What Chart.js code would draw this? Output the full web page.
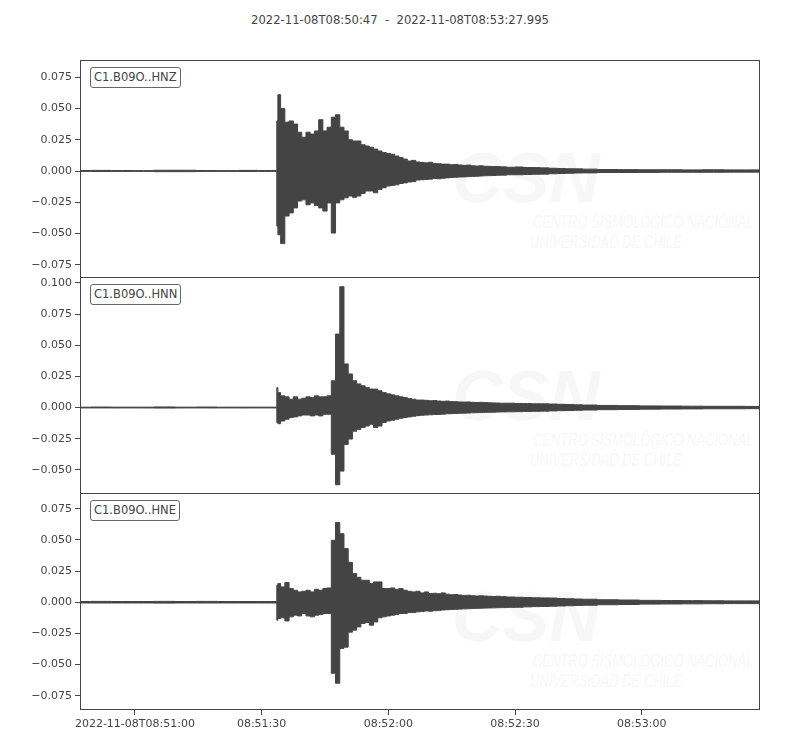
<!DOCTYPE html>
<html>
<head>
<meta charset="utf-8">
<script src="https://cdn.jsdelivr.net/npm/chart.js@4.4.1/dist/chart.umd.min.js"></script>
<style>
  body { margin: 0; background: #fff; }
  #wrap { position: relative; width: 800px; height: 750px; font-family: "DejaVu Sans", sans-serif; color: #444; overflow: hidden; }
  canvas { position: absolute; left: 0; }
  .title { position: absolute; top: 13px; left: 0; width: 800px; text-align: center; font-size: 11.6px; white-space: pre; }
  .tag { position: absolute; left: 90px; font-size: 11.5px; line-height: 13px; border: 1px solid #666; border-radius: 3px; padding: 3px 3px; background: #fff; z-index: 5; }
  .wm { position: absolute; color: #f7f7f7; font-style: italic; white-space: nowrap; font-family: "Liberation Sans Narrow", "Liberation Sans", sans-serif; transform-origin: left top; }
  .wm.big { font-weight: bold; font-size: 70px; font-family: "Liberation Sans", sans-serif; }
  .wm.small { font-size: 18px; transform: scaleX(0.72); }
</style>
</head>
<body>
<div id="wrap">
  <div class="title">2022-11-08T08:50:47  -  2022-11-08T08:53:27.995</div>

  <div class="wm big" style="left:452px;top:138px;">CSN</div>
  <div class="wm small" style="left:533px;top:212px;">CENTRO SISMOLÓGICO NACIONAL</div>
  <div class="wm small" style="left:530px;top:232px;">UNIVERSIDAD DE CHILE</div>
  <div class="wm big" style="left:452px;top:356px;">CSN</div>
  <div class="wm small" style="left:533px;top:430px;">CENTRO SISMOLÓGICO NACIONAL</div>
  <div class="wm small" style="left:530px;top:450px;">UNIVERSIDAD DE CHILE</div>
  <div class="wm big" style="left:452px;top:577px;">CSN</div>
  <div class="wm small" style="left:533px;top:651px;">CENTRO SISMOLÓGICO NACIONAL</div>
  <div class="wm small" style="left:530px;top:671px;">UNIVERSIDAD DE CHILE</div>

  <canvas id="hnz" width="800" height="278" style="top:0px"></canvas>
  <canvas id="hnn" width="800" height="217" style="top:277px"></canvas>
  <canvas id="hne" width="800" height="257" style="top:493px"></canvas>

  <div class="tag" style="top:67px">C1.B09O..HNZ</div>
  <div class="tag" style="top:284px">C1.B09O..HNN</div>
  <div class="tag" style="top:500px">C1.B09O..HNE</div>
</div>

<script>
// seconds after 08:50:47, envelope sample times
const seconds = [0, 5, 10, 15, 20, 25, 30, 35, 40, 44, 46.5, 46.7,
  47, 48, 49, 50, 51, 52, 53, 54, 55, 56, 57, 58, 59, 60, 61, 62, 63, 64, 65, 66, 67, 68, 69, 70,
  71, 72, 73, 74, 75, 76, 77, 78, 79, 80, 81, 82, 83, 84, 85, 86, 87, 88, 89, 90,
  91, 92, 93, 94, 95, 96, 97, 98, 99, 100,
  102, 104, 106, 108, 110, 112, 114, 116, 118, 120,
  125, 130, 135, 140, 145, 150, 155, 160, 161];

// upper / lower envelope of each trace (m/s^2)
const hnzMax = [0.0004, 0.0005, 0.0004, 0.0003, 0.0006, 0.0006, 0.0004, 0.0003, 0.0005, 0.0004, 0.0004, 0.040,
  0.061, 0.050, 0.039, 0.040, 0.0375, 0.031, 0.027, 0.031, 0.0295, 0.032, 0.041, 0.032, 0.035, 0.043, 0.045, 0.035, 0.032, 0.025, 0.024, 0.024, 0.021, 0.020, 0.019, 0.0175,
  0.016, 0.0147, 0.014, 0.0134, 0.012, 0.0107, 0.0095, 0.008, 0.0085, 0.0072, 0.0068, 0.0065, 0.007, 0.006, 0.0058, 0.0055, 0.0055, 0.005, 0.0052, 0.0048,
  0.0045, 0.0047, 0.0042, 0.004, 0.0042, 0.0038, 0.0037, 0.0035, 0.0036, 0.0033,
  0.003, 0.0032, 0.0028, 0.0027, 0.0025, 0.0022, 0.002, 0.0018, 0.0017, 0.0015,
  0.0012, 0.0011, 0.001, 0.001, 0.0009, 0.001, 0.0009, 0.0009, 0.0009];
const hnzMin = [-0.0003, -0.0004, -0.0003, -0.0003, -0.0005, -0.0005, -0.0003, -0.0003, -0.0004, -0.0003, -0.0003, -0.044,
  -0.051, -0.058, -0.036, -0.0335, -0.0295, -0.024, -0.023, -0.027, -0.0255, -0.0276, -0.0295, -0.032, -0.0255, -0.0496, -0.0255, -0.023, -0.0214, -0.020, -0.021, -0.020, -0.018, -0.016, -0.016, -0.0174,
  -0.0147, -0.0134, -0.012, -0.0115, -0.011, -0.010, -0.0095, -0.0088, -0.0085, -0.0072, -0.007, -0.0068, -0.0065, -0.006, -0.0062, -0.0058, -0.0055, -0.0052, -0.005, -0.0048,
  -0.0047, -0.0045, -0.0043, -0.0042, -0.004, -0.0038, -0.0037, -0.0036, -0.0034, -0.0033,
  -0.003, -0.003, -0.0028, -0.0026, -0.0025, -0.0022, -0.002, -0.0018, -0.0016, -0.0015,
  -0.0012, -0.0012, -0.0011, -0.001, -0.001, -0.001, -0.0009, -0.0009, -0.0009];

const hnnMax = [0.0003, 0.0004, 0.0003, 0.0003, 0.0005, 0.0003, 0.0004, 0.0003, 0.0003, 0.0003, 0.0003, 0.016,
  0.012, 0.0094, 0.0086, 0.0067, 0.0086, 0.0067, 0.0075, 0.0086, 0.008, 0.0094, 0.0086, 0.0086, 0.0094, 0.0215, 0.059, 0.097, 0.035, 0.027, 0.0215, 0.019, 0.0175, 0.016, 0.0148, 0.0148,
  0.0135, 0.012, 0.011, 0.0102, 0.0094, 0.0086, 0.008, 0.0073, 0.0067, 0.006, 0.006, 0.0058, 0.0055, 0.0056, 0.0052, 0.005, 0.0052, 0.0048, 0.0047, 0.0045,
  0.0044, 0.0045, 0.0042, 0.004, 0.0042, 0.004, 0.0038, 0.0037, 0.0036, 0.0035,
  0.0035, 0.0033, 0.0032, 0.003, 0.003, 0.0028, 0.0026, 0.0025, 0.0022, 0.002,
  0.0017, 0.0015, 0.0013, 0.0012, 0.0011, 0.001, 0.001, 0.0009, 0.0009];
const hnnMin = [-0.0003, -0.0003, -0.0003, -0.0003, -0.0004, -0.0003, -0.0003, -0.0003, -0.0003, -0.0003, -0.0003, -0.012,
  -0.013, -0.0108, -0.0094, -0.008, -0.0075, -0.0067, -0.006, -0.006, -0.0067, -0.006, -0.0067, -0.0054, -0.0054, -0.0375, -0.062, -0.051, -0.0296, -0.0253, -0.019, -0.0175, -0.016, -0.0148, -0.0135, -0.016,
  -0.0148, -0.012, -0.0108, -0.0102, -0.0094, -0.0086, -0.008, -0.0075, -0.007, -0.0065, -0.0062, -0.006, -0.0058, -0.0056, -0.0055, -0.0053, -0.005, -0.0049, -0.0047, -0.0046,
  -0.0045, -0.0044, -0.0042, -0.0041, -0.004, -0.0039, -0.0038, -0.0037, -0.0036, -0.0035,
  -0.0034, -0.0033, -0.0031, -0.003, -0.0029, -0.0027, -0.0025, -0.0024, -0.0022, -0.002,
  -0.0017, -0.0015, -0.0013, -0.0012, -0.0011, -0.001, -0.001, -0.0009, -0.0009];

const hneMax = [0.0006, 0.0007, 0.0006, 0.0006, 0.0007, 0.0006, 0.0007, 0.0006, 0.0006, 0.0006, 0.0006, 0.0136,
  0.015, 0.0123, 0.0158, 0.011, 0.0096, 0.0083, 0.0088, 0.0096, 0.0083, 0.0104, 0.0096, 0.011, 0.0115, 0.0497, 0.064, 0.055, 0.043, 0.032, 0.023, 0.020, 0.0176, 0.0176, 0.015, 0.0163,
  0.0163, 0.011, 0.011, 0.0115, 0.0104, 0.011, 0.0096, 0.0088, 0.0083, 0.0088, 0.0075, 0.0083, 0.007, 0.0072, 0.0068, 0.0075, 0.0065, 0.006, 0.0062, 0.0058,
  0.0055, 0.0056, 0.0052, 0.005, 0.0052, 0.005, 0.0048, 0.0046, 0.0048, 0.0045,
  0.0042, 0.004, 0.0038, 0.0036, 0.0035, 0.0034, 0.003, 0.0028, 0.0026, 0.0024,
  0.002, 0.0018, 0.0015, 0.0014, 0.0013, 0.0012, 0.0011, 0.0011, 0.0011];
const hneMin = [-0.0006, -0.0006, -0.0006, -0.0006, -0.0007, -0.0006, -0.0006, -0.0006, -0.0006, -0.0006, -0.0006, -0.0144,
  -0.013, -0.0125, -0.015, -0.0117, -0.0104, -0.011, -0.009, -0.011, -0.0117, -0.0104, -0.0099, -0.009, -0.009, -0.057, -0.065, -0.037, -0.036, -0.024, -0.0224, -0.0198, -0.017, -0.0163, -0.0184, -0.0158,
  -0.0125, -0.0117, -0.011, -0.0104, -0.0099, -0.009, -0.009, -0.0083, -0.0083, -0.0077, -0.0075, -0.007, -0.0072, -0.0068, -0.0065, -0.0062, -0.006, -0.0058, -0.0057, -0.0055,
  -0.0053, -0.0052, -0.005, -0.0049, -0.0048, -0.0047, -0.0046, -0.0045, -0.0044, -0.0043,
  -0.0041, -0.004, -0.0037, -0.0035, -0.0034, -0.0032, -0.003, -0.0028, -0.0026, -0.0024,
  -0.002, -0.0018, -0.0015, -0.0014, -0.0013, -0.0012, -0.0011, -0.0011, -0.0011];

// time axis ticks
const tickSeconds = [13, 43, 73, 103, 133];
const tickLabels = ["2022-11-08T08:51:00", "08:51:30", "08:52:00", "08:52:30", "08:53:00"];

// y ticks per trace
const ticksHnz = [-0.075, -0.05, -0.025, 0, 0.025, 0.05, 0.075];
const ticksHnn = [-0.05, -0.025, 0, 0.025, 0.05, 0.075, 0.1];
const ticksHne = [-0.075, -0.05, -0.025, 0, 0.025, 0.05, 0.075];

const ink = "#444";
const font = { family: "DejaVu Sans", size: 11 };

// box round each panel
const frame = {
  id: "frame",
  afterDraw(chart) {
    const a = chart.chartArea;
    const ctx = chart.ctx;
    ctx.save();
    ctx.strokeStyle = ink;
    ctx.lineWidth = 1;
    ctx.strokeRect(Math.round(a.left) + 0.5, Math.round(a.top) + 0.5,
      Math.round(a.right - a.left) - 1, Math.round(a.bottom - a.top) - 1);
    ctx.restore();
  }
};

function pts(arr) {
  return seconds.map((t, i) => ({ x: t, y: arr[i] }));
}

function makeTrace(id, upper, lower, yMin, yMax, yTicks, showX, padTop) {
  const line = { borderColor: ink, backgroundColor: ink, borderWidth: 1, pointRadius: 0, stepped: "middle" };
  return new Chart(document.getElementById(id), {
    type: "line",
    data: {
      datasets: [
        Object.assign({ data: pts(upper), fill: "+1" }, line),
        Object.assign({ data: pts(lower), fill: false }, line)
      ]
    },
    options: {
      responsive: false,
      animation: false,
      events: [],
      layout: { padding: { left: 0, right: 40, top: padTop, bottom: 0 } },
      plugins: { legend: { display: false }, tooltip: { enabled: false } },
      scales: {
        x: {
          type: "linear",
          min: 0,
          max: 160.995,
          display: showX,
          border: { display: false },
          grid: { drawOnChartArea: false, tickLength: 5, color: ink },
          afterBuildTicks: s => { s.ticks = tickSeconds.map(v => ({ value: v })); },
          afterFit: s => { s.height = showX ? 40 : 0; s.paddingLeft = 0; s.paddingRight = 0; },
          ticks: {
            autoSkip: false,
            maxRotation: 0,
            padding: 3,
            color: ink,
            font: font,
            callback: v => tickLabels[tickSeconds.indexOf(v)]
          }
        },
        y: {
          min: yMin,
          max: yMax,
          border: { display: false },
          grid: { drawOnChartArea: false, tickLength: 5, color: ink },
          afterBuildTicks: s => { s.ticks = yTicks.map(v => ({ value: v })); },
          afterFit: s => { s.width = 80; s.paddingTop = 0; s.paddingBottom = 0; },
          ticks: {
            padding: 3,
            color: ink,
            font: font,
            callback: v => v.toFixed(3).replace("-", "\u2212")
          }
        }
      }
    },
    plugins: [frame]
  });
}

makeTrace("hnz", hnzMax, hnzMin, -0.0855, 0.0887, ticksHnz, false, 60);
makeTrace("hnn", hnnMax, hnnMin, -0.0694, 0.1048, ticksHnn, false, 0);
makeTrace("hne", hneMax, hneMin, -0.0864, 0.0876, ticksHne, true, 0);
</script>
</body>
</html>
